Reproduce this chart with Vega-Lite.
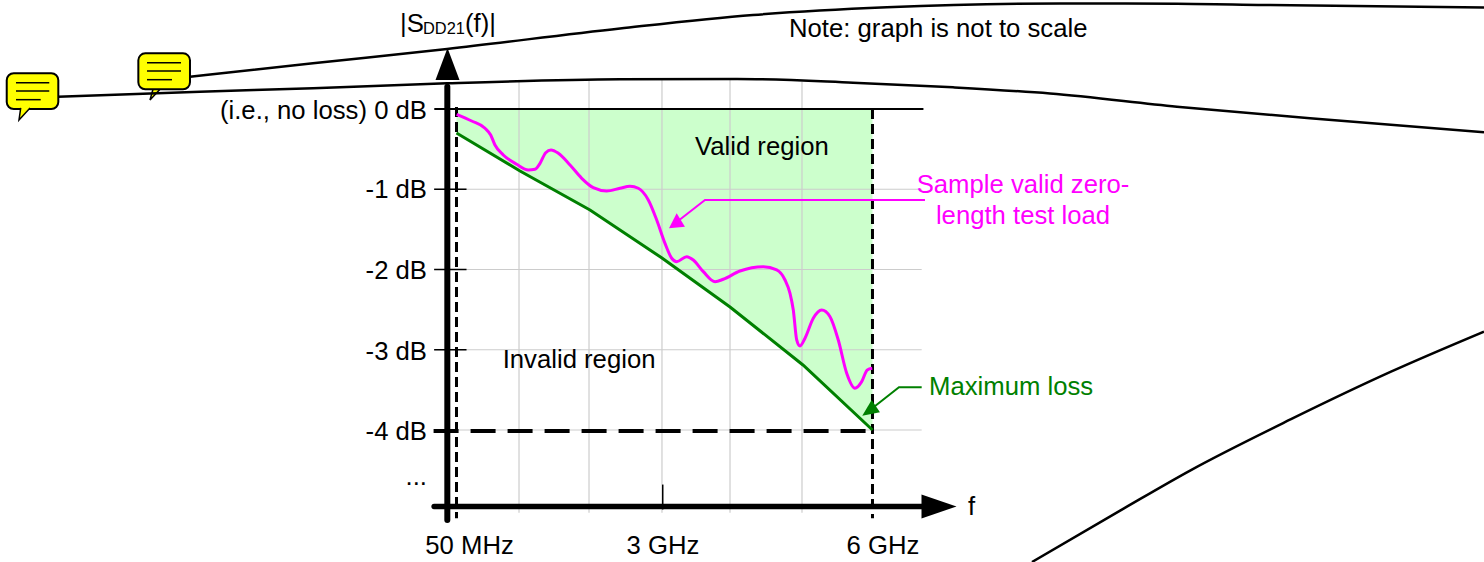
{
"$schema":"https://vega.github.io/schema/vega-lite/v6.json",
"width":1484,"height":562,"padding":0,"autosize":{"type":"none"},
"background":"white",
"config":{"view":{"stroke":null},"text":{"font":"Liberation Sans"}},
"encoding":{
"x":{"field":"x","type":"quantitative","axis":null,"scale":{"domain":[-6.457,14.719],"nice":false,"zero":false}},
"y":{"field":"y","type":"quantitative","axis":null,"scale":{"domain":[-5.645,1.358],"nice":false,"zero":false}}
},
"layer":[
{"data":{"values":[{"x":0.057,"y":-0.299,"y2":0},{"x":0.963,"y":-0.773,"y2":0},{"x":1.962,"y":-1.259,"y2":0},{"x":2.989,"y":-1.857,"y2":0},{"x":3.960,"y":-2.467,"y2":0},{"x":5.001,"y":-3.190,"y2":0},{"x":5.993,"y":-4.0,"y2":0}]},
"mark":{"type":"area","color":"#ccffcc"},"encoding":{"y2":{"field":"y2"}}},
{"data":{"values":[{"x":0.949,"y":0.34,"y2":-5.03},{"x":1.948,"y":0.35,"y2":-5.03},{"x":2.989,"y":0.36,"y2":-5.03},{"x":3.960,"y":0.36,"y2":-5.03},{"x":4.987,"y":0.34,"y2":-5.03}]},
"mark":{"type":"rule","color":"#cccccc","strokeWidth":1.2},"encoding":{"y2":{"field":"y2"}}},
{"data":{"values":[{"x":-0.262,"x2":6.695,"y":-1},{"x":-0.262,"x2":6.695,"y":-2},{"x":-0.262,"x2":6.695,"y":-3},{"x":-0.262,"x2":6.695,"y":-4}]},
"mark":{"type":"rule","color":"#cccccc","strokeWidth":1.2},"encoding":{"x2":{"field":"x2"}}},
{"data":{"values":[{"x":-0.26,"x2":6.72,"y":0}]},
"mark":{"type":"rule","color":"black","strokeWidth":2},"encoding":{"x2":{"field":"x2"}}},
{"data":{"values":[{"x":-0.262,"x2":0.2,"y":-1},{"x":-0.262,"x2":0.2,"y":-2},{"x":-0.262,"x2":0.2,"y":-3}]},
"mark":{"type":"rule","color":"black","strokeWidth":1.5},"encoding":{"x2":{"field":"x2"}}},
{"data":{"values":[{"x":3.0,"y":-4.68,"y2":-4.99}]},
"mark":{"type":"rule","color":"black","strokeWidth":1.5},"encoding":{"y2":{"field":"y2"}}},
{"data":{"values":[{"x":-0.074,"y":0.278,"y2":-5.121}]},
"mark":{"type":"rule","color":"black","strokeWidth":6,"strokeCap":"round"},"encoding":{"y2":{"field":"y2"}}},
{"data":{"values":[{"x":-0.262,"x2":6.9,"y":-4.953}]},
"mark":{"type":"rule","color":"black","strokeWidth":5.5,"strokeCap":"round"},"encoding":{"x2":{"field":"x2"}}},
{"data":{"values":[{"x":-0.071,"y":0.561}]},
"mark":{"type":"point","shape":"M0,-1.33L1,1.33L-1,1.33Z","size":576,"filled":true,"color":"black","opacity":1,"strokeWidth":0}},
{"data":{"values":[{"x":6.942,"y":-4.953}]},
"mark":{"type":"point","shape":"M1.46,0L-1.46,1L-1.46,-1Z","size":576,"filled":true,"color":"black","opacity":1,"strokeWidth":0}},
{"data":{"values":[{"x":0.057,"y":0.025,"y2":-5.1},{"x":5.993,"y":0,"y2":-5.1}]},
"mark":{"type":"rule","color":"black","strokeWidth":3,"strokeDash":[10,5]},"encoding":{"y2":{"field":"y2"}}},
{"data":{"values":[{"x":-0.27,"x2":5.993,"y":-4.012}]},
"mark":{"type":"rule","color":"black","strokeWidth":4,"strokeDash":[25,12]},"encoding":{"x2":{"field":"x2"}}},
{"data":{"values":[{"x":0.057,"y":-0.299},{"x":0.963,"y":-0.773},{"x":1.962,"y":-1.259},{"x":2.989,"y":-1.857},{"x":3.960,"y":-2.467},{"x":5.001,"y":-3.190},{"x":5.993,"y":-4.0}]},
"mark":{"type":"line","color":"#008000","strokeWidth":3}},
{"data":{"values":[{"x":0.060,"y":-0.066},{"x":0.274,"y":-0.150},{"x":0.464,"y":-0.240},{"x":0.545,"y":-0.324},{"x":0.606,"y":-0.449},{"x":0.725,"y":-0.573},{"x":0.916,"y":-0.689},{"x":1.082,"y":-0.760},{"x":1.177,"y":-0.751},{"x":1.249,"y":-0.677},{"x":1.330,"y":-0.545},{"x":1.406,"y":-0.511},{"x":1.510,"y":-0.552},{"x":1.677,"y":-0.698},{"x":1.844,"y":-0.864},{"x":2.009,"y":-0.981},{"x":2.200,"y":-1.022},{"x":2.390,"y":-0.988},{"x":2.533,"y":-0.963},{"x":2.651,"y":-0.988},{"x":2.794,"y":-1.134},{"x":2.914,"y":-1.383},{"x":3.032,"y":-1.674},{"x":3.128,"y":-1.860},{"x":3.199,"y":-1.903},{"x":3.342,"y":-1.840},{"x":3.436,"y":-1.882},{"x":3.579,"y":-2.027},{"x":3.746,"y":-2.152},{"x":3.864,"y":-2.122},{"x":4.102,"y":-2.019},{"x":4.435,"y":-1.965},{"x":4.626,"y":-2.006},{"x":4.745,"y":-2.131},{"x":4.816,"y":-2.297},{"x":4.863,"y":-2.505},{"x":4.912,"y":-2.879},{"x":4.959,"y":-2.953},{"x":5.030,"y":-2.857},{"x":5.148,"y":-2.608},{"x":5.268,"y":-2.505},{"x":5.387,"y":-2.588},{"x":5.505,"y":-2.879},{"x":5.625,"y":-3.293},{"x":5.743,"y":-3.480},{"x":5.839,"y":-3.398},{"x":5.919,"y":-3.252},{"x":5.990,"y":-3.231}]},
"mark":{"type":"line","color":"#ff00ff","strokeWidth":3,"interpolate":"monotone"}},
{"data":{"values":[{"x":6.742,"y":-1.134},{"x":3.603,"y":-1.134},{"x":3.218,"y":-1.396}]},
"mark":{"type":"line","color":"#ff00ff","strokeWidth":2}},
{"data":{"values":[{"x":3.203,"y":-1.408}]},
"mark":{"type":"point","shape":"M-0.8,0.63L0.8,0.47L-0.03,-0.87Z","size":400,"filled":true,"color":"#ff00ff","opacity":1,"strokeWidth":0}},
{"data":{"values":[{"x":6.695,"y":-3.468},{"x":6.371,"y":-3.468},{"x":5.958,"y":-3.751}]},
"mark":{"type":"line","color":"#008000","strokeWidth":2}},
{"data":{"values":[{"x":5.981,"y":-3.726}]},
"mark":{"type":"point","shape":"M-0.94,0.77L0.83,0.43L0,-0.8Z","size":400,"filled":true,"color":"#008000","opacity":1,"strokeWidth":0}},
{"data":{"values":[{"x":-4.231,"y":0.212}]},
"mark":{"type":"point","shape":"M0.4,-0.27L-0.6,0.8L-0.3,-0.27","size":400,"filled":true,"fill":"#ffff00","stroke":"black","strokeWidth":1.5,"opacity":1}},
{"data":{"values":[{"x":-3.746,"y":0.402},{"x":-1.991,"y":0.569},{"x":-0.078,"y":0.748},{"x":2.390,"y":1.003},{"x":4.288,"y":1.171},{"x":6.199,"y":1.267},{"x":8.668,"y":1.315},{"x":10.337,"y":1.312},{"x":11.580,"y":1.296},{"x":14.719,"y":1.265}]},
"mark":{"type":"line","color":"black","strokeWidth":2.5,"interpolate":"monotone"}},
{"data":{"values":[{"x":-5.629,"y":0.153},{"x":-3.603,"y":0.216},{"x":-1.991,"y":0.258},{"x":-0.078,"y":0.320},{"x":2.390,"y":0.370},{"x":4.060,"y":0.374},{"x":5.715,"y":0.328},{"x":7.142,"y":0.270},{"x":8.526,"y":0.193},{"x":10.337,"y":0.029},{"x":12.236,"y":-0.116},{"x":14.719,"y":-0.290}]},
"mark":{"type":"line","color":"black","strokeWidth":2.5,"interpolate":"monotone"}},
{"data":{"values":[{"x":8.269,"y":-5.645},{"x":9.582,"y":-4.976},{"x":10.538,"y":-4.499},{"x":11.965,"y":-3.866},{"x":13.392,"y":-3.274},{"x":14.719,"y":-2.775}]},
"mark":{"type":"line","color":"black","strokeWidth":2.5,"interpolate":"monotone"}},
{"data":{"values":[{"x":-6.361,"x2":-5.625,"y":0.445,"y2":0},{"x":-4.483,"x2":-3.746,"y":0.694,"y2":0.245}]},
"mark":{"type":"rect","fill":"#ffff00","stroke":"black","strokeWidth":2,"cornerRadius":7},"encoding":{"x2":{"field":"x2"},"y2":{"field":"y2"}}},
{"data":{"values":[{"x":-6.100,"y":-0.012}]},
"mark":{"type":"point","shape":"M0.5,-0.2L-0.6,1L-0.43,-0.2","size":400,"filled":true,"fill":"#ffff00","stroke":"black","strokeWidth":1.5,"opacity":1}},
{"data":{"values":[{"x":-6.229,"x2":-5.754,"y":0.328},{"x":-6.229,"x2":-5.754,"y":0.224},{"x":-6.229,"x2":-5.876,"y":0.116},{"x":-4.359,"x2":-3.874,"y":0.577},{"x":-4.359,"x2":-3.874,"y":0.474},{"x":-4.359,"x2":-4.003,"y":0.365}]},
"mark":{"type":"rule","color":"black","strokeWidth":1.5},"encoding":{"x2":{"field":"x2"}}},
{"data":{"values":[{"x":4.802,"y":0.901,"label":"Note: graph is not to scale"},{"x":-0.749,"y":0.960,"label":"|S"},{"x":0.178,"y":0.960,"label":"(f)|"},{"x":7.356,"y":-5.059,"label":"f"},{"x":3.460,"y":-0.573,"label":"Valid region"},{"x":0.716,"y":-3.224,"label":"Invalid region"}]},
"mark":{"type":"text","align":"left","baseline":"alphabetic","fontSize":25.7,"font":"Liberation Sans","color":"black"},"encoding":{"text":{"field":"label"}}},
{"data":{"values":[{"x":-0.421,"y":0.931,"label":"DD21"}]},
"mark":{"type":"text","align":"left","baseline":"alphabetic","fontSize":16.4,"font":"Liberation Sans","color":"black"},"encoding":{"text":{"field":"label"}}},
{"data":{"values":[{"x":-0.364,"y":-0.125,"label":"(i.e., no loss) 0 dB"},{"x":-0.364,"y":-1.109,"label":"-1 dB"},{"x":-0.364,"y":-2.118,"label":"-2 dB"},{"x":-0.364,"y":-3.128,"label":"-3 dB"},{"x":-0.364,"y":-4.125,"label":"-4 dB"},{"x":-0.364,"y":-4.685,"label":"..."}]},
"mark":{"type":"text","align":"right","baseline":"alphabetic","fontSize":25.7,"font":"Liberation Sans","color":"black"},"encoding":{"text":{"field":"label"}}},
{"data":{"values":[{"x":0.243,"y":-5.545,"label":"50 MHz"},{"x":3.004,"y":-5.545,"label":"3 GHz"},{"x":6.143,"y":-5.545,"label":"6 GHz"}]},
"mark":{"type":"text","align":"center","baseline":"alphabetic","fontSize":25.7,"font":"Liberation Sans","color":"black"},"encoding":{"text":{"field":"label"}}},
{"data":{"values":[{"x":8.141,"y":-1.047,"label":"Sample valid zero-"},{"x":8.141,"y":-1.433,"label":"length test load"}]},
"mark":{"type":"text","align":"center","baseline":"alphabetic","fontSize":25.7,"font":"Liberation Sans","color":"#ff00ff"},"encoding":{"text":{"field":"label"}}},
{"data":{"values":[{"x":6.800,"y":-3.563,"label":"Maximum loss"}]},
"mark":{"type":"text","align":"left","baseline":"alphabetic","fontSize":25.7,"font":"Liberation Sans","color":"#008000"},"encoding":{"text":{"field":"label"}}}
]
}
